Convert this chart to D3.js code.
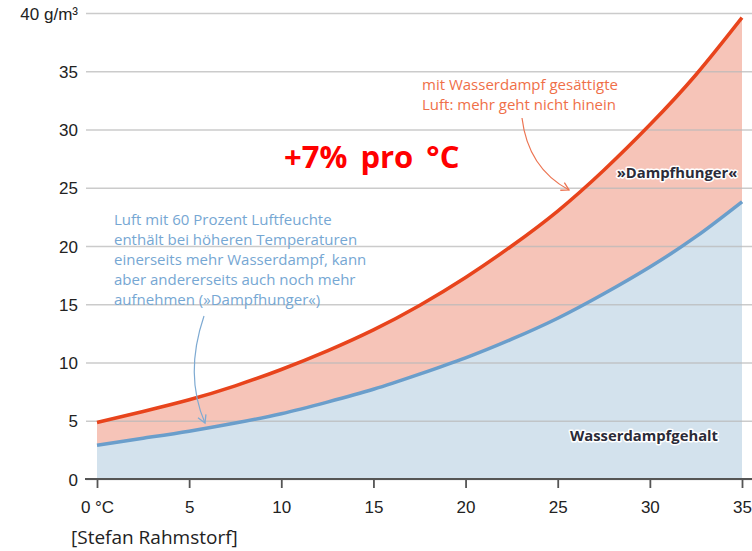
<!DOCTYPE html>
<html>
<head>
<meta charset="utf-8">
<script src="https://cdn.jsdelivr.net/npm/d3@7"></script>
<style>
	body { margin: 0; background: #fff; }
	svg { display: block; }
	.tick text { font-family: "Liberation Sans", Arial, sans-serif; font-size: 17px; fill: #222; }
	.note { font-family: "Open Sans", "Noto Sans", sans-serif; font-size: 15px; }
	.halo { font-family: "Open Sans", "Noto Sans", sans-serif; font-size: 14.8px; font-weight: bold; fill: #2b2b38;
		stroke: #fff; stroke-width: 3px; paint-order: stroke; stroke-linejoin: round; }
</style>
</head>
<body>
<script>
// temperature in °C
var temps = [0, 2.5, 5, 7.5, 10, 12.5, 15, 17.5, 20, 22.5, 25, 27.5, 30, 32.5, 35];
// saturated air, g/m3
var saturated = [4.85, 5.8, 6.8, 8.0, 9.4, 11.0, 12.8, 14.9, 17.3, 20.0, 23.0, 26.5, 30.4, 34.7, 39.6];
// air at 60 % humidity, g/m3
var humid60 = [2.9, 3.5, 4.1, 4.8, 5.6, 6.6, 7.7, 9.0, 10.4, 12.0, 13.8, 15.9, 18.2, 20.8, 23.8];

var xTicks = [0, 5, 10, 15, 20, 25, 30, 35];
var yTicks = [0, 5, 10, 15, 20, 25, 30, 35, 40];

var redNote = ["mit Wasserdampf gesättigte", "Luft: mehr geht nicht hinein"];
var blueNote = [
	"Luft mit 60 Prozent Luftfeuchte",
	"enthält bei höheren Temperaturen",
	"einerseits mehr Wasserdampf, kann",
	"aber andererseits auch noch mehr",
	"aufnehmen (»Dampfhunger«)"
];

var W = 752, H = 551;
var svg = d3.select('body').append('svg').attr('width', W).attr('height', H);

var x = d3.scaleLinear().domain([0, 35]).range([97, 742]);
var y = d3.scaleLinear().domain([0, 40]).range([479, 13]);

var rows = temps.map(function(t, i) {
	return {t: t, sat: saturated[i], hum: humid60[i]};
});

var defs = svg.append('defs');
function marker(id, color) {
	defs.append('marker').attr('id', id)
		.attr('viewBox', "0 0 10 10").attr('refX', 8).attr('refY', 5)
		.attr('markerWidth', 9).attr('markerHeight', 9).attr('orient', "auto")
		.append('path').attr('d', "M1,1 L8,5 L1,9")
		.attr('fill', "none").attr('stroke', color).attr('stroke-width', 1.2);
}
marker('arrRed', "#ec7452");
marker('arrBlue', "#7eaad2");

var curve = d3.curveNatural;

// fills
svg.append('path').datum(rows)
	.attr('d', d3.area().curve(curve).x(function(d) { return x(d.t); })
		.y0(function(d) { return y(d.hum); }).y1(function(d) { return y(d.sat); }))
	.attr('fill', "#f6c4b8");

svg.append('path').datum(rows)
	.attr('d', d3.area().curve(curve).x(function(d) { return x(d.t); })
		.y0(y(0)).y1(function(d) { return y(d.hum); }))
	.attr('fill', "#d3e2ed");

// gridlines + y labels
var yAxis = svg.append('g').attr('transform', "translate(86,0)")
	.call(d3.axisLeft(y).tickValues(yTicks).tickSize(-(W - 86)).tickPadding(8)
		.tickFormat(function(d) { return d === 40 ? "40 g/m³" : d; }));
yAxis.select('.domain').remove();
yAxis.selectAll('.tick line').attr('stroke', "#b9b9b9").attr('stroke-opacity', 0.75).attr('stroke-width', 1.3);
yAxis.selectAll('.tick text').attr('dy', "0.36em");

// x axis
var xAxis = svg.append('g').attr('transform', "translate(0," + y(0) + ")")
	.call(d3.axisBottom(x).tickValues(xTicks).tickSize(9).tickPadding(13)
		.tickFormat(function(d) { return d === 0 ? "0 °C" : d; }));
xAxis.select('.domain').remove();
xAxis.selectAll('.tick line').attr('stroke', "#555").attr('stroke-width', 1.8);
svg.append('line').attr('x1', 85).attr('x2', W).attr('y1', y(0)).attr('y2', y(0))
	.attr('stroke', "#555").attr('stroke-width', 2);

// curves
var line = function(key) {
	return d3.line().curve(curve).x(function(d) { return x(d.t); }).y(function(d) { return y(d[key]); });
};
svg.append('path').datum(rows).attr('d', line('hum'))
	.attr('fill', "none").attr('stroke', "#6a9ecb").attr('stroke-width', 3.5);
svg.append('path').datum(rows).attr('d', line('sat'))
	.attr('fill', "none").attr('stroke', "#e8441c").attr('stroke-width', 3.5);

// notes
svg.append('text').attr('class', "note").attr('x', 422).attr('y', 90).attr('fill', "#ef6f48")
	.selectAll('tspan').data(redNote).enter().append('tspan')
	.attr('x', 422).attr('dy', function(d, i) { return i ? 20 : 0; }).text(function(d) { return d; });

svg.append('path').attr('d', "M522,118 Q528,168 569,190")
	.attr('fill', "none").attr('stroke', "#ec7452").attr('stroke-width', 1.2).attr('marker-end', "url(#arrRed)");

svg.append('text').attr('class', "note").attr('x', 114).attr('y', 225).attr('fill', "#76a7d3")
	.selectAll('tspan').data(blueNote).enter().append('tspan')
	.attr('x', 114).attr('dy', function(d, i) { return i ? 20 : 0; }).text(function(d) { return d; });

svg.append('path').attr('d', "M204,316 Q184,375 205,423")
	.attr('fill', "none").attr('stroke', "#7eaad2").attr('stroke-width', 1.2).attr('marker-end', "url(#arrBlue)");

svg.append('text').attr('class', "halo").attr('x', 677).attr('y', 178).attr('text-anchor', "middle").text("»Dampfhunger«");
svg.append('text').attr('class', "halo").attr('x', 644).attr('y', 441).attr('text-anchor', "middle").text("Wasserdampfgehalt");

svg.append('text').attr('x', 284).attr('y', 168)
	.attr('font-family', "'Open Sans', 'Noto Sans', sans-serif").attr('font-size', 31).attr('font-weight', "bold")
	.attr('word-spacing', 5).attr('fill', "#ff0000").text("+7% pro °C");

svg.append('text').attr('x', 71).attr('y', 544)
	.attr('font-family', "'Open Sans', 'Noto Sans', sans-serif").attr('font-size', 19)
	.attr('fill', "#222").text("[Stefan Rahmstorf]");
</script>
</body>
</html>
